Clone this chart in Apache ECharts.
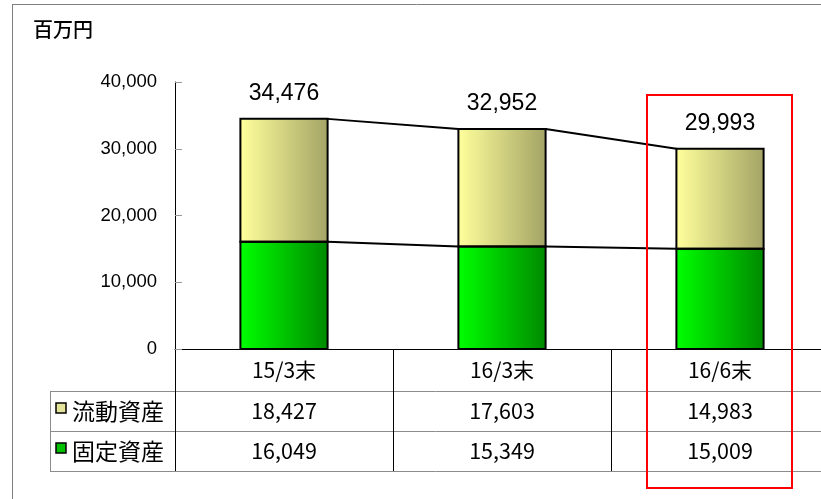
<!DOCTYPE html>
<html>
<head>
<meta charset="utf-8">
<script src="https://cdn.jsdelivr.net/npm/echarts@6/dist/echarts.min.js"></script>
<style>
  html, body { margin: 0; padding: 0; background: #fff; }
  #chart { width: 821px; height: 499px; }
</style>
</head>
<body>
<div id="chart"></div>
<script>
  const categories = ["15/3末", "16/3末", "16/6末"];
  const currentAssets = [18427, 17603, 14983];   // 流動資産
  const fixedAssets = [16049, 15349, 15009];     // 固定資産
  const totals = [34476, 32952, 29993];
  const yTicks = [0, 10000, 20000, 30000, 40000];
  const unitLabel = "百万円";
  const rowNames = ["流動資産", "固定資産"];

  const fmt = v => v.toLocaleString("en-US");
  const numFont = "'Liberation Sans', Arial, sans-serif";
  const jpFont = "'Noto Sans CJK JP', sans-serif";
  const BAR_RATIO = 0.4;

  // series lines between stacked tops
  const lineData = [];
  for (let i = 0; i < categories.length - 1; i++) {
    lineData.push([i, fixedAssets[i], fixedAssets[i + 1], totals[i], totals[i + 1]]);
  }
  // outlines of the stacked segments
  const outlineData = categories.map((c, i) => [i, fixedAssets[i], totals[i]]);

  const chart = echarts.init(document.getElementById("chart"));
  const option = {
    animation: false,
    grid: { left: 175, top: 82, width: 654, height: 267, outerBoundsMode: "none", containLabel: false },
    xAxis: {
      type: "category",
      data: categories,
      axisLine: { lineStyle: { color: "#000", width: 1 } },
      axisTick: { show: false },
      axisLabel: { fontSize: 21, fontFamily: jpFont, color: "#000", margin: 11 }
    },
    yAxis: {
      type: "value",
      min: yTicks[0],
      max: yTicks[yTicks.length - 1],
      interval: yTicks[1] - yTicks[0],
      splitLine: { show: false },
      axisLine: { show: true, lineStyle: { color: "#000", width: 1 } },
      axisTick: { show: true, inside: true, length: 7, lineStyle: { color: "#999" } },
      axisLabel: { fontSize: 18.5, fontFamily: numFont, color: "#000", margin: 18, formatter: fmt }
    },
    series: [
      {
        name: rowNames[1],
        type: "bar",
        stack: "a",
        barWidth: BAR_RATIO * 100 + "%",
        data: fixedAssets,
        itemStyle: {
          color: new echarts.graphic.LinearGradient(0, 0, 1, 0, [
            { offset: 0, color: "#00ff00" },
            { offset: 1, color: "#008a00" }
          ])
        }
      },
      {
        name: rowNames[0],
        type: "bar",
        stack: "a",
        barWidth: BAR_RATIO * 100 + "%",
        data: currentAssets,
        itemStyle: {
          color: new echarts.graphic.LinearGradient(0, 0, 1, 0, [
            { offset: 0, color: "#ffff9c" },
            { offset: 1, color: "#a4a466" }
          ])
        },
        label: {
          show: true,
          position: "top",
          distance: 14,
          fontSize: 23,
          fontFamily: numFont,
          color: "#000",
          formatter: p => fmt(totals[p.dataIndex])
        }
      },
      {
        type: "custom",
        data: outlineData,
        encode: { x: 0, y: 2 },
        z: 5,
        silent: true,
        renderItem: (params, api) => {
          const i = api.value(0);
          const half = api.size([1, 0])[0] * BAR_RATIO / 2;
          const base = api.coord([i, 0]);
          const mid = api.coord([i, api.value(1)]);
          const top = api.coord([i, api.value(2)]);
          const style = { fill: "none", stroke: "#000", lineWidth: 2 };
          return {
            type: "group",
            children: [
              { type: "rect", shape: { x: base[0] - half, y: mid[1], width: half * 2, height: base[1] - mid[1] }, style },
              { type: "rect", shape: { x: base[0] - half, y: top[1], width: half * 2, height: mid[1] - top[1] }, style }
            ]
          };
        }
      },
      {
        type: "custom",
        data: lineData,
        encode: { x: 0, y: 1 },
        z: 1,
        silent: true,
        renderItem: (params, api) => {
          const i = api.value(0);
          const half = api.size([1, 0])[0] * BAR_RATIO / 2;
          const a1 = api.coord([i, api.value(1)]);
          const a2 = api.coord([i + 1, api.value(2)]);
          const b1 = api.coord([i, api.value(3)]);
          const b2 = api.coord([i + 1, api.value(4)]);
          const style = { stroke: "#000", lineWidth: 2 };
          return {
            type: "group",
            children: [
              { type: "line", shape: { x1: a1[0] + half, y1: a1[1], x2: a2[0] - half, y2: a2[1] }, style },
              { type: "line", shape: { x1: b1[0] + half, y1: b1[1], x2: b2[0] - half, y2: b2[1] }, style }
            ]
          };
        }
      }
    ]
  };
  chart.setOption(option);

  // data table under the axis
  const centers = categories.map((c, i) => chart.convertToPixel({ xAxisIndex: 0 }, i));
  const band = centers[1] - centers[0];
  const y0 = chart.convertToPixel({ yAxisIndex: 0 }, 0);
  const rowH = 40;
  const headH = 42;
  const tableLeft = 50;
  const r1 = y0 + headH, r2 = r1 + rowH, r3 = r2 + rowH;
  const gray = "#8c8c8c";
  const els = [];
  const hline = (x1, x2, y, c) => els.push({ type: "line", shape: { x1, y1: y, x2, y2: y }, style: { stroke: c, lineWidth: 1 }, silent: true });
  const vline = (x, y1, y2, c) => els.push({ type: "line", shape: { x1: x, y1, x2: x, y2 }, style: { stroke: c, lineWidth: 1 }, silent: true });

  // frame
  hline(12, 821, 4.5, "#808080");
  vline(12.5, 4, 499, "#808080");

  hline(tableLeft, 821, r1 + 0.5, gray);
  hline(tableLeft, 821, r2 + 0.5, gray);
  hline(tableLeft, 821, r3 + 0.5, gray);
  vline(tableLeft + 0.5, r1, r3, gray);
  for (let k = 0; k <= categories.length; k++) {
    const x = Math.round(centers[0] - band / 2 + band * k) + 0.5;
    vline(x, y0, r3, "#000");
  }

  const rows = [currentAssets, fixedAssets];
  const markerFill = ["#e4e49a", "#00c000"];
  rows.forEach((vals, r) => {
    const cy = r1 + rowH * r + rowH / 2;
    els.push({ type: "rect", shape: { x: 56, y: cy - 8, width: 10, height: 10 }, style: { fill: markerFill[r], stroke: "#000", lineWidth: 1.5 }, silent: true });
    els.push({ type: "text", x: 72, y: cy, style: { text: rowNames[r], fontSize: 23, fontFamily: jpFont, fill: "#000", align: "left", verticalAlign: "middle" }, silent: true });
    vals.forEach((v, i) => {
      els.push({ type: "text", x: centers[i], y: cy, style: { text: fmt(v), fontSize: 21.5, fontFamily: jpFont, fill: "#000", align: "center", verticalAlign: "middle" }, silent: true });
    });
  });

  // unit label
  els.push({ type: "text", x: 33, y: 29, style: { text: unitLabel, fontSize: 20, fontWeight: 500, fontFamily: jpFont, fill: "#000", verticalAlign: "middle" }, silent: true });

  // highlight box around the last column
  const last = centers[centers.length - 1];
  els.push({ type: "rect", shape: { x: last - 73, y: 95, width: 145, height: 393 }, style: { fill: "none", stroke: "#ff0000", lineWidth: 2 }, z: 10, silent: true });

  chart.setOption({ graphic: els });
</script>
</body>
</html>
